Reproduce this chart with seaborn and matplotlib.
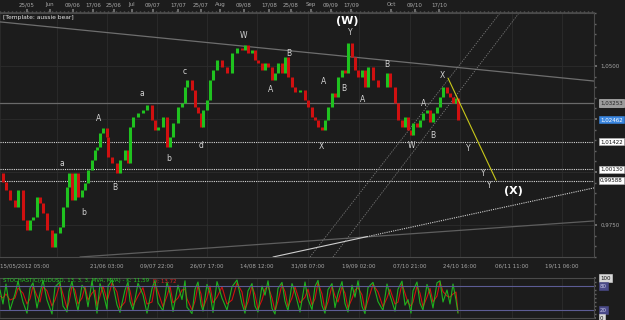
import numpy as np
import matplotlib.pyplot as plt
import matplotlib.ticker as mticker
import pandas as pd
import seaborn as sns

# ---- data ----
# bar position (chart time index) and closing price of each bar
bar_x = [0, 3, 6, 10, 15, 18, 23, 27, 30, 33,
         37, 40, 43, 47, 52, 55, 60, 63, 67, 69,
         72, 75, 78, 82, 85, 88, 92, 95, 97, 100,
         103, 107, 108, 112, 117, 120, 125, 128, 130, 133,
         138, 143, 147, 152, 155, 158, 163, 167, 170, 173,
         178, 182, 185, 187, 192, 195, 198, 201, 203, 207,
         210, 213, 217, 222, 227, 232, 237, 242, 245, 248,
         252, 255, 258, 262, 265, 268, 272, 275, 278, 282,
         285, 288, 292, 295, 300, 305, 308, 312, 315, 318,
         322, 325, 328, 332, 335, 338, 342, 345, 348, 352,
         355, 358, 362, 365, 368, 373, 378, 383, 387, 390,
         395, 398, 402, 405, 408, 411, 413, 417, 420, 423,
         427, 430, 433, 437, 440, 443, 447, 450, 453, 456,
         458]
close = [0.9995, 0.9953, 0.9915, 0.9868, 0.9835, 0.9915, 0.9774, 0.9726, 0.9774, 0.9788,
         0.9882, 0.9854, 0.9807, 0.9726, 0.9646, 0.9712, 0.9741, 0.9835, 0.9929, 0.9995,
         0.9868, 0.9995, 0.9882, 0.9915, 0.9948, 1.0009, 1.0057, 1.0104, 1.0118, 1.0184,
         1.0208, 1.0165, 1.0071, 1.0042, 0.9995, 1.0057, 1.0104, 1.0042, 1.0212, 1.0259,
         1.0278, 1.0292, 1.0316, 1.0245, 1.0198, 1.0212, 1.0259, 1.0118, 1.0165, 1.0231,
         1.0307, 1.0325, 1.0401, 1.0434, 1.0387, 1.0307, 1.0278, 1.0212, 1.0292, 1.0340,
         1.0434, 1.0481, 1.0528, 1.0495, 1.0467, 1.0561, 1.0585, 1.0575, 1.0599, 1.0561,
         1.0575, 1.0528, 1.0514, 1.0481, 1.0514, 1.0495, 1.0434, 1.0467, 1.0514, 1.0467,
         1.0542, 1.0448, 1.0401, 1.0377, 1.0387, 1.0340, 1.0307, 1.0259, 1.0245, 1.0212,
         1.0198, 1.0245, 1.0307, 1.0373, 1.0354, 1.0448, 1.0481, 1.0467, 1.0608, 1.0542,
         1.0481, 1.0448, 1.0481, 1.0401, 1.0495, 1.0434, 1.0401, 1.0401, 1.0467, 1.0401,
         1.0325, 1.0245, 1.0212, 1.0259, 1.0198, 1.0175, 1.0231, 1.0212, 1.0245, 1.0278,
         1.0292, 1.0236, 1.0278, 1.0307, 1.0354, 1.0401, 1.0373, 1.0354, 1.0325, 1.0349,
         1.0246]

stoch_k = [70, 35, 85, 20, 60, 92, 40, 12, 75, 88,
           25, 62, 94, 45, 10, 78, 90, 30, 15, 66,
           91, 52, 18, 82, 72, 28, 93, 48, 12, 86,
           64, 22, 80, 95, 33, 14, 70, 90, 42, 20,
           87, 58, 12, 74, 94, 38, 18, 89, 62, 16,
           82, 46, 93, 27, 11, 72, 90, 34, 17, 84,
           62, 14, 91, 50, 20, 78, 95, 36, 12, 68,
           86, 30, 15, 80, 57, 93, 24, 10, 74, 89,
           42, 18, 86, 64, 15, 90, 47, 21, 79, 94,
           31, 12, 71, 86, 26, 61, 91, 36, 15, 82,
           52, 93, 29, 11, 76, 89, 41, 19, 85, 57,
           17, 72, 92, 32, 46, 12, 68, 90, 37, 20,
           84, 60, 25, 88, 93, 40, 70, 35, 85, 45,
           12]
stoch_d = [55, 50, 60, 45, 50, 75, 62, 35, 48, 80,
           55, 40, 78, 68, 30, 45, 85, 60, 25, 40,
           80, 70, 35, 50, 78, 45, 62, 70, 30, 55,
           80, 45, 50, 88, 65, 25, 40, 82, 68, 30,
           55, 76, 35, 40, 85, 66, 28, 55, 80, 38,
           50, 70, 72, 48, 20, 42, 82, 60, 25, 50,
           80, 38, 52, 78, 35, 45, 88, 65, 22, 40,
           80, 58, 22, 45, 72, 80, 50, 18, 42, 84,
           66, 28, 50, 78, 38, 52, 72, 32, 48, 88,
           60, 20, 40, 80, 55, 40, 78, 62, 25, 48,
           70, 76, 58, 20, 44, 84, 65, 28, 50, 72,
           35, 40, 85, 62, 38, 30, 40, 80, 62, 28,
           52, 74, 40, 55, 90, 66, 55, 52, 60, 65,
           14]

top_ticks = [27, 50, 73, 93, 114, 132, 153, 178, 201, 220, 244, 269, 291,
             311, 331, 351, 391, 415, 439]
top_labels = ['25/05', 'Jun', '09/06', '17/06', '25/06', 'Jul', '09/07', '17/07',
              '25/07', 'Aug', '09/08', '17/08', '25/08', 'Sep', '09/09', '17/09',
              'Oct', '09/10', '17/10']
bottom_ticks = [0, 57, 107, 157, 207, 257, 308, 359, 410, 460, 512, 562]
bottom_labels = ['15/05/2012 05:00', '', '21/06 03:00', '09/07 22:00', '26/07 17:00',
                 '14/08 12:00', '31/08 07:00', '19/09 02:00', '07/10 21:00',
                 '24/10 16:00', '06/11 11:00', '19/11 06:00']

# wave count labels
wave_text = ['a', 'b', 'B', 'A', 'a', 'b', 'c', 'd', 'W', 'A', 'B', 'X', 'A', 'B',
             'Y', 'A', 'B', 'W', 'A', 'B', 'X', 'Y', 'Y', 'Y']
wave_x = [62, 84, 115, 99, 142, 169, 185, 201, 243, 271, 289, 321, 324, 344,
          350, 363, 387, 411, 424, 433, 442, 468, 483, 489]
wave_price = [1.0038, 0.9811, 0.9929, 1.0250, 1.0368, 1.0066, 1.0472, 1.0123, 1.0646,
              1.0387, 1.0561, 1.0118, 1.0425, 1.0396, 1.0656, 1.0344, 1.0505, 1.0123,
              1.0325, 1.0170, 1.0453, 1.0113, 0.9991, 0.9934]
big_text = ['(W)', '(X)']
big_x = [347, 513]
big_price = [1.0712, 0.9910]

# price levels
solid_level = 1.03253
dotted_levels = [1.01422, 1.00130, 0.99588]
last_price = 1.02462

# trend lines: (x0, x1), (p0, p1)
top_line = ([0, 594], [1.0708, 1.0429])
low_line = ([80, 594], [0.9599, 0.9769])
white_solid = ([273, 367], [0.9599, 0.9695])
white_dotted = ([367, 594], [0.9695, 0.9925])
chan1 = ([310, 500], [0.9599, 1.0750])
chan2 = ([333, 519], [0.9599, 1.0750])
yellow_line = ([448, 496], [1.0443, 0.9962])

bg = '#1c1c1c'
up = '#1fc21f'
down = '#d01010'
grid_c = '#2c2c2c'
spine_c = '#4a4a4a'
txt_c = '#a8a8a8'

sns.set_theme(style='dark', rc={'axes.facecolor': bg, 'figure.facecolor': bg,
                                'savefig.facecolor': bg, 'axes.edgecolor': spine_c})
plt.rcParams['font.family'] = ['DejaVu Sans']

fig = plt.figure(figsize=(6.25, 3.2), dpi=100)
ax = fig.add_axes([0, 63 / 320, 594 / 625, 244 / 320])
ax2 = fig.add_axes([0, 2 / 320, 594 / 625, 40 / 320])

# ---- main price panel ----
opens = [close[0]] + close[:-1]
colors = [up if c >= o else down for o, c in zip(opens, close)]
ax.vlines(bar_x, opens, close, colors=colors, lw=2.2, zorder=4)

ax.axhline(solid_level, color='#6a6a6a', lw=0.9, zorder=2)
for lv in dotted_levels:
    ax.axhline(lv, color='#d8d8d8', lw=0.8, ls=(0, (1, 1)), zorder=2)

ax.plot(*top_line, color='#6e6e6e', lw=0.9, zorder=2)
ax.plot(*low_line, color='#5e5e5e', lw=0.9, zorder=2)
ax.plot(*white_solid, color='#cfcfcf', lw=0.8, zorder=2)
ax.plot(*white_dotted, color='#cfcfcf', lw=0.8, ls=(0, (1, 1)), zorder=2)
ax.plot(*chan1, color='#7a7a7a', lw=0.6, ls=(0, (1.5, 1.5)), zorder=2)
ax.plot(*chan2, color='#7a7a7a', lw=0.6, ls=(0, (1.5, 1.5)), zorder=2)
ax.plot(*yellow_line, color='#c8c81a', lw=0.8, zorder=5)

for t, x, p in zip(wave_text, wave_x, wave_price):
    ax.text(x, p, t, color='#d4d4d4', fontsize=5.5, ha='center', va='center', zorder=6)
for t, x, p in zip(big_text, big_x, big_price):
    ax.text(x, p, t, color='white', fontsize=8, fontweight='bold', ha='center',
            va='center', zorder=6)

ax.text(0.005, 0.983, '[Template: aussie bear]', transform=ax.transAxes, color='#e8e8e8',
        fontsize=4.3, ha='left', va='center')

ax.set_xlim(0, 594)
ax.set_ylim(0.9599, 1.0750)

ax.set_xticks(bottom_ticks, bottom_labels)
ax.get_xticklabels()[0].set_horizontalalignment('left')
ax.tick_params(axis='x', which='both', length=0, pad=4.5, labelsize=4, labelcolor=txt_c)
ax.grid(axis='x', color=grid_c, lw=0.6)

ax.yaxis.tick_right()
ax.set_yticks([0.975, 1.0, 1.025, 1.05])
ax.yaxis.set_major_formatter(mticker.FixedFormatter(['0,9750', '', '', '1,0500']))
ax.yaxis.set_minor_locator(mticker.MultipleLocator(0.005))
ax.tick_params(axis='y', which='major', direction='out', length=2.5, color='#777777',
               labelsize=4, labelcolor=txt_c, pad=2)
ax.tick_params(axis='y', which='minor', direction='out', length=1.5, color='#666666')
ax.grid(axis='y', color=grid_c, lw=0.6)
ax.set_xlabel('')
ax.set_ylabel('')
ax.spines['left'].set_visible(False)
for s in ['top', 'right', 'bottom']:
    ax.spines[s].set_color(spine_c)
    ax.spines[s].set_linewidth(0.8)

sec = ax.secondary_xaxis('top')
sec.set_xticks(top_ticks, top_labels)
sec.xaxis.set_minor_locator(mticker.MultipleLocator(4))
sec.tick_params(axis='x', which='major', direction='out', length=3, color='#777777',
                labelsize=4, labelcolor=txt_c, pad=1)
sec.tick_params(axis='x', which='minor', direction='out', length=1.5, color='#666666')
sec.spines['top'].set_color(spine_c)

# price boxes on the right scale
box_style = 'square,pad=0.2'
ax.text(1.01, solid_level, '1,03253', transform=ax.get_yaxis_transform(), fontsize=4,
        color='#202020', ha='left', va='center', clip_on=False, zorder=10,
        bbox=dict(boxstyle=box_style, fc='#9c9c9c', ec='#cfcfcf', lw=0.4))
ax.text(1.01, last_price, '1,02462', transform=ax.get_yaxis_transform(), fontsize=4,
        color='white', ha='left', va='center', clip_on=False, zorder=10,
        bbox=dict(boxstyle=box_style, fc='#3a86e0', ec='#3a86e0', lw=0.4))
for lv in dotted_levels:
    ax.text(1.01, lv, f'{lv:.5f}'.replace('.', ','), transform=ax.get_yaxis_transform(),
            fontsize=4, color='#111111', ha='left', va='center', clip_on=False, zorder=10,
            bbox=dict(boxstyle=box_style, fc='white', ec='#bbbbbb', lw=0.4))

# ---- stochastic panel ----
df = pd.DataFrame({'x': bar_x, 'K': stoch_k, 'D': stoch_d})
sns.lineplot(data=df, x='x', y='D', color=down, lw=0.8, ax=ax2)
sns.lineplot(data=df, x='x', y='K', color=up, lw=0.8, ax=ax2, alpha=0.9)
ax2.axhline(80, color='#5c5c94', lw=0.8)
ax2.axhline(20, color='#5c5c94', lw=0.8)
ax2.set_xlim(0, 594)
ax2.set_ylim(0, 100)
ax2.set_xlabel('')
ax2.set_ylabel('')
ax2.set_xticks(bottom_ticks)
ax2.tick_params(axis='x', length=0, labelbottom=False)
ax2.grid(axis='x', color=grid_c, lw=0.6)
ax2.yaxis.tick_right()
ax2.set_yticks([0, 20, 80, 100])
ax2.yaxis.set_minor_locator(mticker.MultipleLocator(10))
ax2.tick_params(axis='y', which='both', direction='out', length=1.5, color='#666666',
                labelright=False)
ax2.spines['left'].set_visible(False)
for s in ['top', 'right', 'bottom']:
    ax2.spines[s].set_color(spine_c)
    ax2.spines[s].set_linewidth(0.8)

for lv, fc, tc in [(100, '#d8d8d8', '#111111'), (80, '#4a4a88', '#c8c8e8'),
                   (20, '#4a4a88', '#c8c8e8'), (0, '#d8d8d8', '#111111')]:
    ax2.text(1.01, lv, str(lv), transform=ax2.get_yaxis_transform(), fontsize=4,
             color=tc, ha='left', va='center', clip_on=False, zorder=10,
             bbox=dict(boxstyle=box_style, fc=fc, ec=fc, lw=0.4))

t1 = ax2.text(0.005, 0.93, 'STOCHASTIC(AUDUSD, 13, 3, 3, MVA, MVA) - K: 11,59  ',
              transform=ax2.transAxes, color='#22cc22', fontsize=4, ha='left', va='center')
fig.canvas.draw()
bb = t1.get_window_extent().transformed(ax2.transAxes.inverted())
ax2.text(bb.x1, 0.93, 'D: 13,72', transform=ax2.transAxes, color='#e02020', fontsize=4,
         ha='left', va='center')

fig.savefig('out.png', dpi=100, facecolor=bg)
